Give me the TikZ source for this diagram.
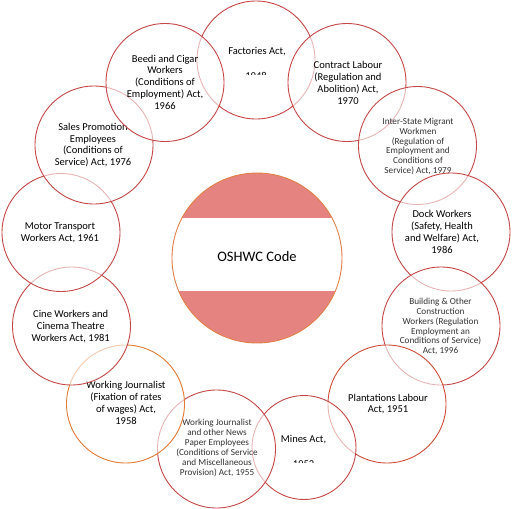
\documentclass[tikz,border=0pt]{standalone}
\usepackage{fontspec}
\setmainfont{Carlito}
\definecolor{ringred}{RGB}{196,72,72}
\definecolor{ringorange}{RGB}{226,122,52}
\definecolor{ringplant}{RGB}{206,78,58}
\definecolor{bandpink}{RGB}{229,131,129}
\definecolor{centerline}{RGB}{224,128,72}
\begin{document}
\begin{tikzpicture}[x=1pt,y=-1pt,
  act/.style={circle,draw=ringred,line width=0.9pt,fill=white,fill opacity=0.6,minimum size=118pt,inner sep=0pt},
  txt/.style={align=center,font=\fontsize{10.5}{11.8}\selectfont,text=black,inner sep=0pt},
  smalltxt/.style={align=center,font=\fontsize{9.2}{9.9}\selectfont,text=black!80,inner sep=0pt}]
\useasboundingbox (0,0) rectangle (512,509);
\fill[white] (0,0) rectangle (512,509);

% central circle
\begin{scope}
  \clip (257,258) circle (85pt);
  \fill[bandpink] (160,160) rectangle (350,218);
  \fill[bandpink] (160,291) rectangle (350,350);
\end{scope}
\node[circle,draw=centerline,line width=0.9pt,minimum size=170pt,inner sep=0pt] (code) at (257,258) {};
\node[txt,font=\fontsize{14.5}{16}\selectfont] (codetxt) at (257,256.7) {OSHWC Code};

% Factories
\node[act] (fac) at (256,60) {};
\node[txt] (factxt) at (257,52) {Factories Act,};
\begin{scope}
  \clip (190,40) rectangle (322,74);
  \node[txt] (facyear) at (256,76) {1948};
\end{scope}
% Contract
\node[act] (con) at (347,82.5) {};
\node[txt] (contxt) at (348,83) {Contract Labour\\(Regulation and\\Abolition) Act,\\1970};
% Inter-State
\node[act] (ism) at (417.5,145.5) {};
\node[smalltxt] (ismtxt) at (418,146.5) {Inter-State Migrant\\Workmen\\(Regulation of\\Employment and\\Conditions of\\Service) Act, 1979};
% Dock
\node[act] (dock) at (451,232) {};
\node[txt] (docktxt) at (442,232) {Dock Workers\\(Safety, Health\\and Welfare) Act,\\1986};
% Building
\node[act] (bld) at (441,326) {};
\node[smalltxt] (bldtxt) at (440.5,326.5) {Building \& Other\\Construction\\Workers (Regulation\\Employment an\\Conditions of Service)\\Act, 1996};
% Plantations
\node[act,draw=ringplant] (plt) at (387,404) {};
\node[txt] (plttxt) at (388,404) {Plantations Labour\\Act, 1951};
% Mines
\node[act,minimum size=104pt] (mine) at (304,447.5) {};
\node[txt] (minetxt) at (303.5,440) {Mines Act,};
\begin{scope}
  \clip (240,430) rectangle (366,462);
  \node[txt] (mineyear) at (303.5,464.5) {1952};
\end{scope}
% Working Journalist other
\node[act] (wjo) at (216.5,449) {};
\node[smalltxt] (wjotxt) at (217,448) {Working Journalist\\and other News\\Paper Employees\\(Conditions of Service\\and Miscellaneous\\Provision) Act, 1955};
% Working Journalist fixation
\node[act,draw=ringorange] (wjf) at (125.5,404) {};
\node[txt] (wjftxt) at (126,403) {Working Journalist\\(Fixation of rates\\of wages) Act,\\1958};
% Cine
\node[act] (cine) at (71.5,326) {};
\node[txt] (cinetxt) at (70.7,326.7) {Cine Workers and\\Cinema Theatre\\Workers Act, 1981};
% Motor
\node[act] (mot) at (61,232.5) {};
\node[txt] (mottxt) at (60,232.7) {Motor Transport\\Workers Act, 1961};
% Sales
\node[act] (sal) at (94,145) {};
\node[txt] (saltxt) at (93,145) {Sales Promotion\\Employees\\(Conditions of\\Service) Act, 1976};
% Beedi
\node[act] (bee) at (165,82.5) {};
\node[txt] (beetxt) at (165,82) {Beedi and Cigar\\Workers\\(Conditions of\\Employment) Act,\\1966};
\end{tikzpicture}
\end{document}
